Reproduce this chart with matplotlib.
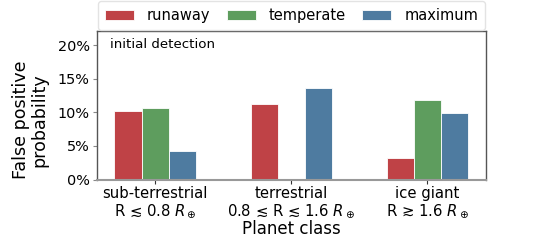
import matplotlib
matplotlib.use("Agg")
import matplotlib.pyplot as plt
import numpy as np
from matplotlib.ticker import PercentFormatter

categories = ["sub-terrestrial\nR ≲ 0.8 $R_\\oplus$",
              "terrestrial\n0.8 ≲ R ≲ 1.6 $R_\\oplus$",
              "ice giant\nR ≳ 1.6 $R_\\oplus$"]
series_names = ["runaway", "temperate", "maximum"]
runaway = [0.1016, 0.112, 0.032]
temperate = [0.1066, 0.0, 0.119]
maximum = [0.042, 0.136, 0.0987]
colors = ["#BF4246", "#5E9D5E", "#4E7BA0"]

fig = plt.figure(figsize=(5.4, 2.4), dpi=100)
ax = fig.add_axes([96.7/540, 1-179.5/240, (486-96.7)/540, (179.5-31)/240])

x = np.arange(len(categories))
w = 0.2
for i, (vals, name, c) in enumerate(zip([runaway, temperate, maximum], series_names, colors)):
    ax.bar(x + (i-1)*w, vals, w, color=c, label=name, edgecolor="white", linewidth=0.6)

ax.set_ylim(0, 0.221)
ax.set_yticks([0, 0.05, 0.10, 0.15, 0.20])
ax.yaxis.set_major_formatter(PercentFormatter(1.0, decimals=0))
ax.set_xticks(x)
ax.set_xticklabels(categories, fontsize=10.7, linespacing=1.05)
ax.tick_params(axis="y", labelsize=10.4, length=3, color="#888888", pad=2)
ax.tick_params(axis="x", length=3, color="#333333", pad=2)
for s in ax.spines.values():
    s.set_color("#555555")
    s.set_linewidth(1.0)
ax.spines["bottom"].set_color("#999999")
ax.spines["bottom"].set_linewidth(1.5)
ax.set_ylabel("False positive\nprobability", fontsize=12.6, linespacing=1.0)
ax.yaxis.set_label_coords(-0.124, 0.40)
ax.set_xlabel("Planet class", fontsize=12, labelpad=0)
ax.text(0.034, 0.955, "initial detection", transform=ax.transAxes, fontsize=9.6, va="top", ha="left")

leg = ax.legend(loc="lower center", bbox_to_anchor=(0.5, 1.01), ncol=3,
                fontsize=10.5, borderaxespad=0, handlelength=2.0, handleheight=0.7, frameon=True,
                columnspacing=1.14, handletextpad=0.87, borderpad=0.45)
leg.get_frame().set_edgecolor("#dddddd")

fig.savefig("out.png", dpi=100)
